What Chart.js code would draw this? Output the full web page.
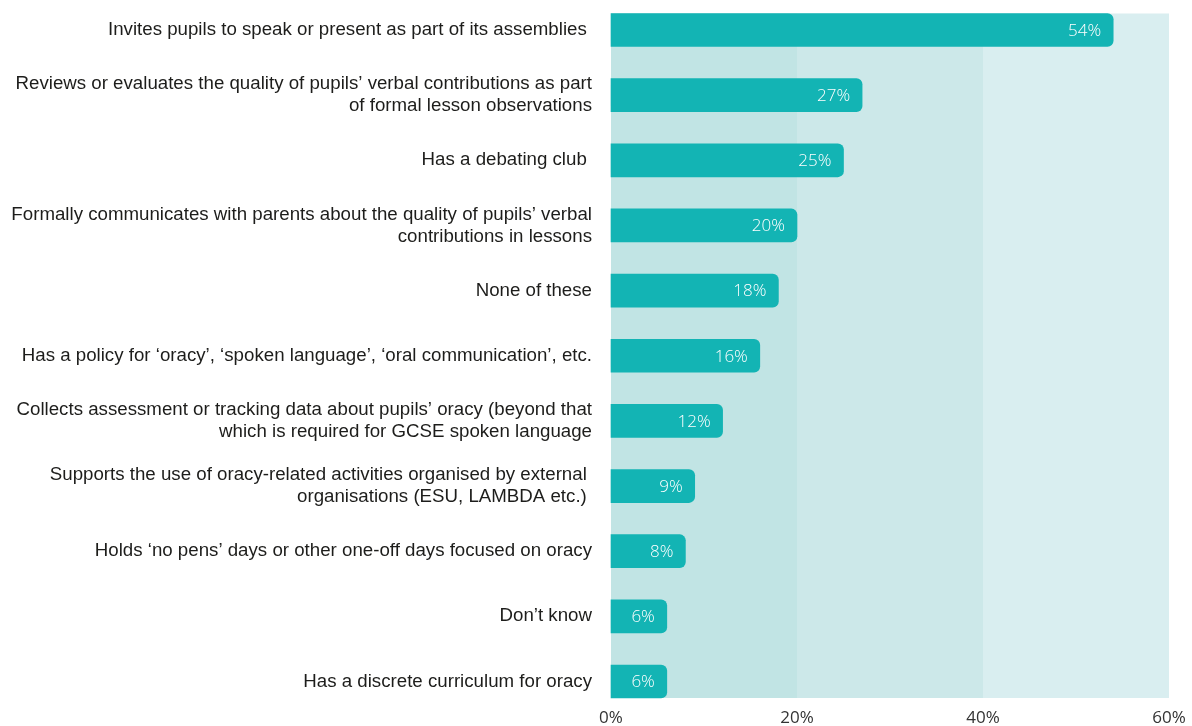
<!DOCTYPE html>
<html>
<head>
<meta charset="utf-8">
<script src="https://cdn.jsdelivr.net/npm/chart.js@4/dist/chart.umd.min.js"></script>
<style>
  body { margin: 0; background: #ffffff; }
</style>
</head>
<body>
<canvas id="oracy_chart" width="1192" height="726"></canvas>
<script>
const categories = [
  'Invites pupils to speak or present as part of its assemblies ',
  ['Reviews or evaluates the quality of pupils\u2019 verbal contributions as part', 'of formal lesson observations'],
  'Has a debating club ',
  ['Formally communicates with parents about the quality of pupils\u2019 verbal', 'contributions in lessons'],
  'None of these',
  'Has a policy for \u2018oracy\u2019, \u2018spoken language\u2019, \u2018oral communication\u2019, etc.',
  ['Collects assessment or tracking data about pupils\u2019 oracy (beyond that', 'which is required for GCSE spoken language'],
  ['Supports the use of oracy-related activities organised by external ', 'organisations (ESU, LAMBDA etc.) '],
  'Holds \u2018no pens\u2019 days or other one-off days focused on oracy',
  'Don\u2019t know',
  'Has a discrete curriculum for oracy'
];
const values = [54, 27, 25, 20, 18, 16, 12, 9, 8, 6, 6];
const xTicks = [0, 20, 40, 60];
const bandColors = ['#c1e4e4', '#cce8e9', '#d9eef0'];

// shaded bands behind the bars (0-20, 20-40, 40-60)
const bandsPlugin = {
  id: 'bands',
  beforeDatasetsDraw(chart) {
    const ctx = chart.ctx;
    const x = chart.scales.x;
    const bars = chart.getDatasetMeta(0).data;
    const first = bars[0], last = bars[bars.length - 1];
    const top = first.y - first.height / 2;
    const bottom = last.y + last.height / 2;
    ctx.save();
    for (let i = 0; i < xTicks.length - 1; i++) {
      const x0 = x.getPixelForValue(xTicks[i]);
      const x1 = x.getPixelForValue(xTicks[i + 1]);
      ctx.fillStyle = bandColors[i];
      ctx.fillRect(x0, top, x1 - x0, bottom - top);
    }
    ctx.restore();
  }
};

// white value text at the end of each bar
const valueLabels = {
  id: 'valueLabels',
  afterDatasetsDraw(chart) {
    const ctx = chart.ctx;
    ctx.save();
    ctx.font = '300 17px "Open Sans"';
    ctx.fillStyle = '#ffffff';
    ctx.textAlign = 'right';
    ctx.textBaseline = 'middle';
    chart.getDatasetMeta(0).data.forEach((bar, i) => {
      ctx.fillText(values[i] + '%', bar.x - 12, bar.y + 1);
    });
    ctx.restore();
  }
};

new Chart(document.getElementById('oracy_chart'), {
  type: 'bar',
  data: {
    labels: categories,
    datasets: [{
      data: values,
      backgroundColor: '#13b4b4',
      borderRadius: 6,
      barThickness: 33,
      clip: false
    }]
  },
  options: {
    indexAxis: 'y',
    responsive: false,
    animation: false,
    layout: {
      padding: { top: 30, right: 0, bottom: 0, left: 0 }
    },
    plugins: {
      legend: { display: false },
      tooltip: { enabled: false }
    },
    scales: {
      y: {
        offset: false,
        grid: { display: false },
        border: { display: false },
        afterFit(scale) { scale.width = 611; },
        ticks: {
          padding: 11,
          color: '#1d1d1b',
          font: { family: '"Liberation Sans", Arial', size: 18.7, lineHeight: 1.18 }
        }
      },
      x: {
        min: 0,
        max: 60,
        grid: { display: false },
        border: { display: false },
        afterFit(scale) {
          scale.height = 44.5;
          scale.paddingLeft = 0;
          scale.paddingRight = 23;
        },
        ticks: {
          stepSize: 20,
          padding: 18.5,
          color: '#333333',
          font: { family: '"Open Sans"', size: 17 },
          callback: v => v + '%'
        }
      }
    }
  },
  plugins: [bandsPlugin, valueLabels]
});
</script>
</body>
</html>
